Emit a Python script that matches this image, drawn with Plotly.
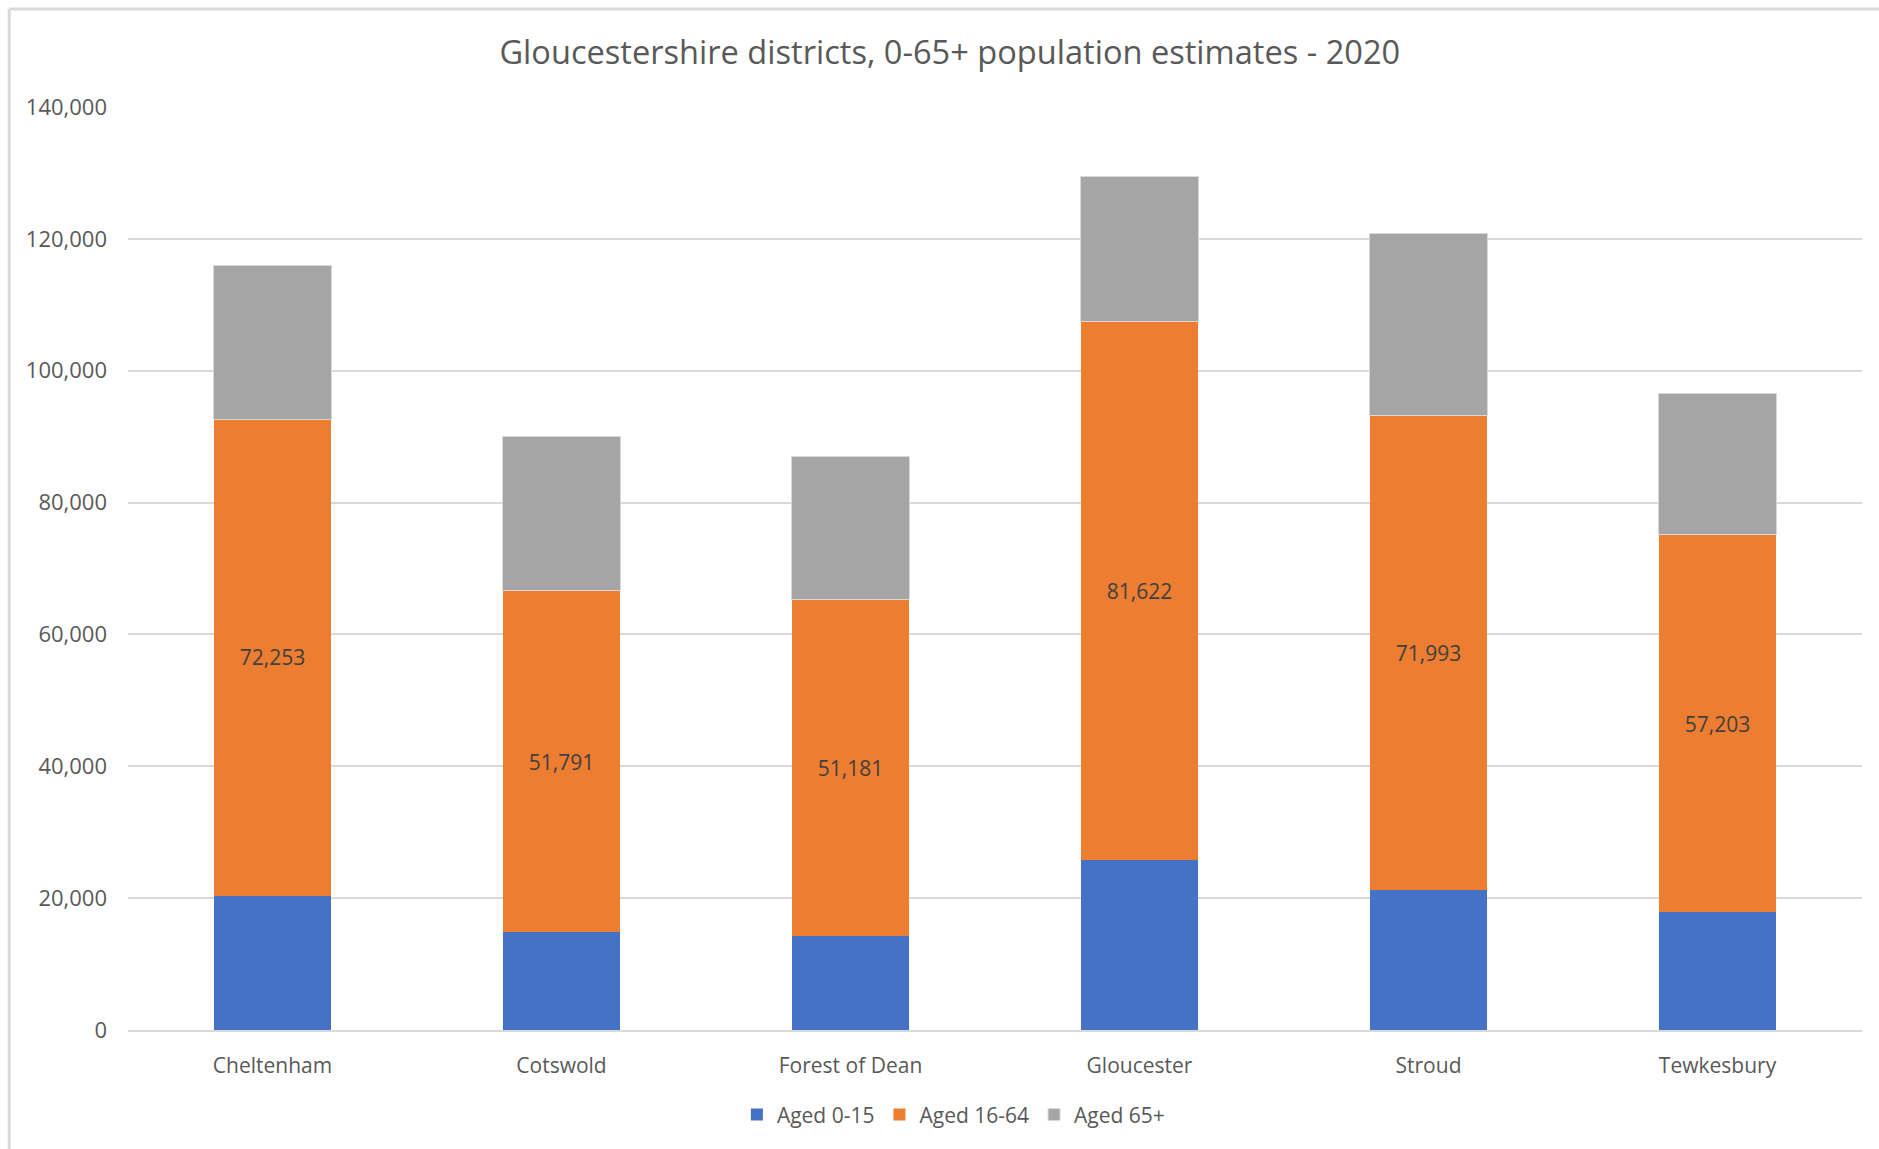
import plotly.graph_objects as go

districts = ["Cheltenham", "Cotswold", "Forest of Dean", "Gloucester", "Stroud", "Tewkesbury"]
aged_0_15 = [20380, 14800, 14190, 25820, 21250, 17880]
aged_16_64 = [72253, 51791, 51181, 81622, 71993, 57203]
aged_65_plus = [23300, 23400, 21620, 22050, 27550, 21440]
y_ticks = [0, 20000, 40000, 60000, 80000, 100000, 120000, 140000]

FONT = "Open Sans"
TXT = "#595959"

fig = go.Figure()
fig.add_trace(go.Bar(x=districts, y=aged_0_15, name="Aged 0-15",
                     marker=dict(color="#4472C4", line=dict(width=0))))
fig.add_trace(go.Bar(x=districts, y=aged_16_64, name="Aged 16-64",
                     marker=dict(color="#ED7D31", line=dict(width=0)),
                     text=[f"{v:,}" for v in aged_16_64], textposition="inside",
                     insidetextanchor="middle",
                     textfont=dict(family=FONT, size=21, color="#404040")))
fig.add_trace(go.Bar(x=districts, y=aged_65_plus, name="Aged 65+",
                     marker=dict(color="#A5A5A5", line=dict(width=1, color="#D9D9D9"))))

fig.update_layout(
    barmode="stack",
    bargap=0.595,
    width=1879, height=1149,
    margin=dict(l=128, r=17, t=107, b=119),
    paper_bgcolor="white", plot_bgcolor="white",
    font=dict(family=FONT, color=TXT, size=21),
    title=dict(text="Gloucestershire districts, 0-65+ population estimates - 2020",
               x=0.5055, xanchor="center", y=1 - 53 / 1149, yanchor="middle",
               font=dict(family=FONT, size=32.6, color=TXT)),
    legend=dict(orientation="h", x=0.476, xanchor="center", y=-0.092, yanchor="middle",
                font=dict(family=FONT, size=21, color=TXT), traceorder="normal",
                itemwidth=30),
    uniformtext=dict(mode="show", minsize=10),
    showlegend=True,
)
fig.update_xaxes(showgrid=False, showline=True, linecolor="#D9D9D9", linewidth=2,
                 ticks="", ticklabelstandoff=16, tickfont=dict(size=21, color=TXT))
fig.update_yaxes(range=[0, 140000], tickvals=y_ticks, tickformat=",",
                 showgrid=True, gridcolor="#D9D9D9", gridwidth=2, zeroline=False,
                 showline=False, ticks="", ticklabelstandoff=20,
                 tickfont=dict(size=22, color=TXT))

# chart border (top and left visible in reference)
fig.add_shape(type="line", xref="paper", yref="paper", x0=-0.0685, x1=1.02,
              y0=1.1062, y1=1.1062, line=dict(color="#D9D9D9", width=3))
fig.add_shape(type="line", xref="paper", yref="paper", x0=-0.0685, x1=-0.0685,
              y0=-0.14, y1=1.1062, line=dict(color="#D9D9D9", width=3))

fig.write_html("out.html")
